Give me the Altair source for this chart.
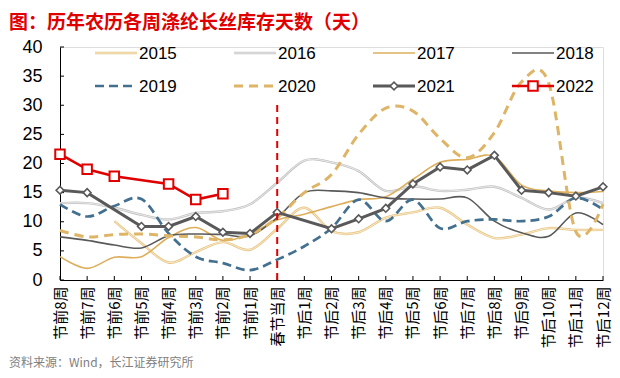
import altair as alt
import pandas as pd

cats = ["节前8周", "节前7周", "节前6周", "节前5周", "节前4周", "节前3周", "节前2周", "节前1周",
        "春节当周", "节后1周", "节后2周", "节后3周", "节后4周", "节后5周", "节后6周", "节后7周",
        "节后8周", "节后9周", "节后10周", "节后11周", "节后12周"]

years = ["2015", "2016", "2017", "2018", "2019", "2020", "2021", "2022"]

v2015 = [None, None, 10.1, 6.3, 3.0, 4.8, 6.5, 5.2, 8.8, 12.4, 8.4, 8.2, 10.7, 11.6, 12.4, 9.5, 7.2, 7.8, 8.9, 8.6, 8.6]
v2016 = [13.2, 13.2, 12.4, 11.2, 10.4, 11.5, 11.8, 13.0, 16.7, 20.5, 20.2, 18.7, 15.3, 16.1, 15.3, 15.5, 16.0, 14.1, 12.1, 14.1, 13.2]
v2017 = [4.0, 2.0, 3.9, 4.0, 7.3, 9.0, 6.8, 7.9, 10.3, 11.3, 12.6, 13.8, 14.3, 17.3, 20.2, 20.7, 21.2, 16.3, 15.3, 15.0, 15.2]
v2018 = [7.4, 6.8, 6.0, 5.5, 7.6, 7.9, 7.8, 7.6, 10.7, 15.0, 15.3, 15.0, 14.1, 13.9, 13.9, 14.1, 10.1, 8.1, 7.5, 11.5, 9.5]
v2019 = [13.0, 10.9, 12.7, 13.9, 8.0, 4.0, 2.9, 1.7, 3.5, 5.8, 8.9, 13.8, 10.1, 13.8, 8.9, 10.1, 10.4, 10.1, 10.9, 14.1, 12.1]
v2020 = [8.5, 7.4, 7.8, 7.9, 7.6, 7.4, 6.9, 7.8, 10.7, 15.0, 18.1, 25.0, 29.5, 29.0, 24.3, 21.0, 25.3, 34.0, 33.8, 8.3, 13.0]
v2021 = [15.4, 15.0, None, 9.2, 9.2, 10.9, 8.2, 8.0, 11.6, None, 8.8, 10.5, 12.3, 16.5, 19.4, 18.9, 21.4, 15.4, 15.0, 14.4, 16.0]
v2022 = [21.6, 19.0, 17.8, None, 16.5, 13.8, 14.8] + [None] * 14

series = {"2015": v2015, "2016": v2016, "2017": v2017, "2018": v2018,
          "2019": v2019, "2020": v2020, "2021": v2021, "2022": v2022}

y_ticks = [0, 5, 10, 15, 20, 25, 30, 35, 40]
spring_week = "春节当周"
spring_line_top = 30.5

title_text = "图：历年农历各周涤纶长丝库存天数（天）"
source_text = "资料来源：Wind，长江证券研究所"

W, H = 543, 233
LAT = "Liberation Sans, Noto Sans CJK SC"
CJK = "Noto Sans CJK SC"

styles = {
    "2015": dict(color="#E8C582", width=2.4, inner="#FBF2E0", interp="cardinal"),
    "2016": dict(color="#C2C2C2", width=2.4, inner="#F4F4F4", interp="cardinal"),
    "2017": dict(color="#DDAF5C", width=1.6, interp="cardinal"),
    "2018": dict(color="#595959", width=1.6, interp="cardinal"),
    "2019": dict(color="#44708F", width=2.7, dash=[9, 5], interp="cardinal"),
    "2020": dict(color="#DEB466", width=3.0, dash=[9, 6], interp="cardinal"),
    "2021": dict(color="#595959", width=3.0, interp="linear", marker="diamond", msize=60, mstroke=1.6),
    "2022": dict(color="#E00000", width=2.6, interp="linear", marker="square", msize=90, mstroke=2),
}

xscale = alt.Scale(domain=cats, type="point", padding=0)
yscale = alt.Scale(domain=[0, 40], nice=False, zero=True)
xaxis = alt.Axis(title=None, ticks=False, grid=False, domain=True, domainColor="#000000",
                 domainWidth=1, labelAngle=270, labelFontSize=15, labelFont=CJK,
                 labelColor="#000000", labelPadding=6, labelOverlap=False, labelBound=False)
yaxis = alt.Axis(title=None, ticks=False, grid=False, domain=True, domainColor="#000000",
                 domainWidth=1, values=y_ticks, labelFontSize=18, labelFont=LAT,
                 labelColor="#000000", labelPadding=18)


def X():
    return alt.X("cat:N", scale=xscale, axis=xaxis)


def Y(field="v"):
    return alt.Y(f"{field}:Q", scale=yscale, axis=yaxis)


dummy = pd.DataFrame({"a": [0]})
layers = []

# axis ticks (inward)
cat_df = pd.DataFrame({"cat": cats})
layers.append(alt.Chart(cat_df).mark_rule(color="#000000", strokeWidth=1).encode(
    x=X(), y=alt.value(H), y2=alt.value(H - 4)))
tick_df = pd.DataFrame({"v": y_ticks})
layers.append(alt.Chart(tick_df).mark_rule(color="#000000", strokeWidth=1).encode(
    y=Y(), x=alt.value(0), x2=alt.value(4)))

# series
for yr in years:
    st = styles[yr]
    df = pd.DataFrame({"cat": cats, "v": series[yr]}).dropna()
    kw = dict(color=st["color"], strokeWidth=st["width"], interpolate=st["interp"])
    if "dash" in st:
        kw["strokeDash"] = st["dash"]
    layers.append(alt.Chart(df).mark_line(**kw).encode(x=X(), y=Y()))
    if "inner" in st:
        layers.append(alt.Chart(df).mark_line(color=st["inner"], strokeWidth=0.8,
                                              interpolate=st["interp"]).encode(x=X(), y=Y()))
    if "marker" in st:
        layers.append(alt.Chart(df).mark_point(shape=st["marker"], size=st["msize"], filled=True,
                                               fill="#FFFFFF", stroke=st["color"],
                                               strokeWidth=st["mstroke"], opacity=1).encode(x=X(), y=Y()))

# spring festival marker line
sp_df = pd.DataFrame({"cat": [spring_week], "v": [0], "v2": [spring_line_top]})
layers.append(alt.Chart(sp_df).mark_rule(color="#E00000", strokeWidth=2, strokeDash=[7, 5]).encode(
    x=X(), y=Y(), y2="v2:Q"))

# legend
for i, yr in enumerate(years):
    st = styles[yr]
    col, row = i % 4, i // 4
    lx0 = 35 + col * 139
    lx1 = lx0 + 42
    ly = 6 + row * 33
    kw = dict(color=st["color"], strokeWidth=st["width"])
    if "dash" in st:
        kw["strokeDash"] = st["dash"]
    layers.append(alt.Chart(dummy).mark_rule(**kw).encode(
        x=alt.value(lx0), x2=alt.value(lx1), y=alt.value(ly)))
    if "inner" in st:
        layers.append(alt.Chart(dummy).mark_rule(color=st["inner"], strokeWidth=0.8).encode(
            x=alt.value(lx0), x2=alt.value(lx1), y=alt.value(ly)))
    if "marker" in st:
        layers.append(alt.Chart(dummy).mark_point(shape=st["marker"], size=st["msize"], filled=True,
                                                  fill="#FFFFFF", stroke=st["color"],
                                                  strokeWidth=st["mstroke"], opacity=1).encode(
            x=alt.value((lx0 + lx1) / 2), y=alt.value(ly)))
    layers.append(alt.Chart(dummy).mark_text(align="left", baseline="middle", fontSize=17,
                                             font=LAT, color="#000000").encode(
        x=alt.value(lx1 + 2), y=alt.value(ly + 1), text=alt.value(yr)))

# title and source
layers.append(alt.Chart(dummy).mark_text(align="left", baseline="middle", fontSize=19,
                                         fontWeight="bold", font=CJK, color="#E00000").encode(
    x=alt.value(-51), y=alt.value(-24), text=alt.value(title_text)))
layers.append(alt.Chart(dummy).mark_text(align="left", baseline="middle", fontSize=12,
                                         font=CJK, color="#808080").encode(
    x=alt.value(-51), y=alt.value(316), text=alt.value(source_text)))

chart = alt.layer(*layers).properties(
    width=W, height=H,
    autosize=alt.AutoSizeParams(type="none"),
    padding={"left": 52, "top": 39, "right": 9, "bottom": 100},
).configure_view(stroke=None).configure(background="#FFFFFF")

chart.save("out.html", embed_options={"renderer": "svg", "actions": False})
